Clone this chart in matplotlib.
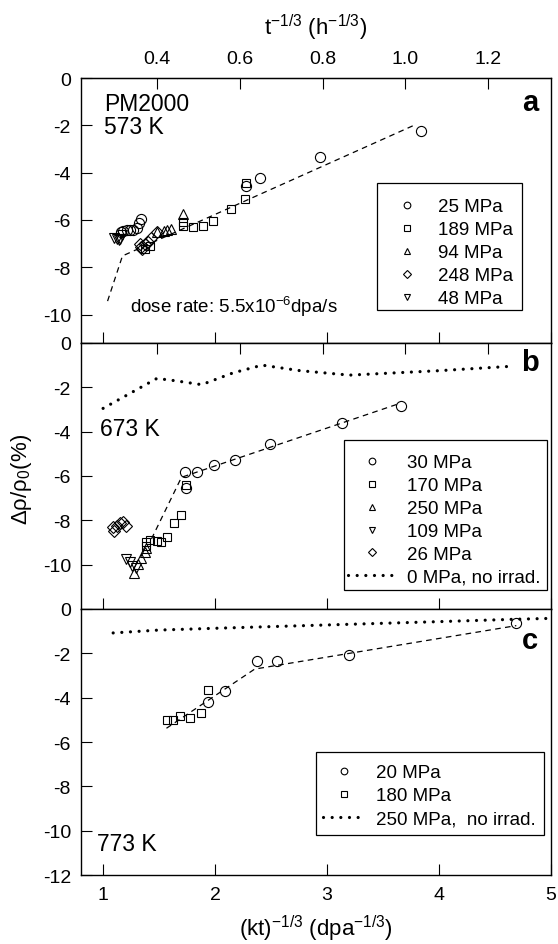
import matplotlib
matplotlib.use("Agg")
import matplotlib.pyplot as plt
from matplotlib.lines import Line2D
from matplotlib.patches import Rectangle
from matplotlib.ticker import FormatStrFormatter

plt.rcParams["font.family"] = ["Liberation Sans", "DejaVu Sans"]
plt.rcParams["mathtext.fontset"] = "custom"
plt.rcParams["mathtext.rm"] = "Liberation Sans"
plt.rcParams["mathtext.it"] = "Liberation Sans:italic"
plt.rcParams["mathtext.default"] = "regular"
plt.rcParams["axes.unicode_minus"] = False

# --------------------
# Data
# --------------------
# panel a, 573 K
a_25_x = [1.16, 1.18, 1.21, 1.24, 1.27, 1.30, 1.32, 1.34, 2.28, 2.40, 2.94, 3.84]
a_25_y = [-6.50, -6.46, -6.43, -6.43, -6.43, -6.36, -6.13, -5.95, -4.57, -4.22, -3.33, -2.25]
a_189_x = [1.37, 1.42, 1.71, 1.71, 1.80, 1.89, 1.98, 2.14, 2.27, 2.28]
a_189_y = [-7.22, -7.08, -6.08, -6.25, -6.29, -6.25, -6.05, -5.55, -5.12, -4.42]
a_94_x = [1.48, 1.54, 1.57, 1.61, 1.71]
a_94_y = [-6.53, -6.48, -6.43, -6.39, -5.75]
a_248_x = [1.33, 1.34, 1.35, 1.37, 1.40, 1.43, 1.48]
a_248_y = [-7.02, -7.14, -7.24, -7.02, -6.93, -6.76, -6.50]
a_48_x = [1.10, 1.125, 1.14, 1.155, 1.17]
a_48_y = [-6.76, -6.81, -6.86, -6.79, -6.65]
a_fit_x = [1.04, 1.173, 3.79]
a_fit_y = [-9.43, -7.52, -1.97]

# panel b, 673 K
b_30_x = [1.73, 1.738, 1.843, 1.988, 2.18, 2.49, 3.137, 3.658]
b_30_y = [-5.80, -6.54, -5.80, -5.50, -5.28, -4.56, -3.61, -2.83]
b_170_x = [1.38, 1.38, 1.423, 1.477, 1.52, 1.571, 1.634, 1.70, 1.738]
b_170_y = [-9.17, -8.99, -8.89, -8.95, -8.99, -8.74, -8.12, -7.74, -6.39]
b_250_x = [1.274, 1.31, 1.343, 1.37, 1.38]
b_250_y = [-10.39, -9.97, -9.71, -9.45, -9.26]
b_109_x = [1.203, 1.238, 1.262, 1.29]
b_109_y = [-9.74, -9.86, -10.04, -10.16]
b_26_x = [1.089, 1.096, 1.12, 1.155, 1.179, 1.203]
b_26_y = [-8.31, -8.46, -8.24, -8.13, -8.06, -8.24]
b_ref_x = [1.0, 1.48, 1.64, 1.88, 2.16, 2.42, 2.76, 3.2, 4.0, 4.65]
b_ref_y = [-2.95, -1.60, -1.70, -1.88, -1.35, -1.00, -1.25, -1.45, -1.25, -1.05]
b_fit_x = [1.432, 1.70, 3.635]
b_fit_y = [-8.84, -6.06, -2.75]

# panel c, 773 K
c_20_x = [1.938, 2.093, 2.37, 2.557, 3.2, 4.69]
c_20_y = [-4.19, -3.71, -2.33, -2.33, -2.07, -0.63]
c_180_x = [1.575, 1.625, 1.69, 1.774, 1.87, 1.938]
c_180_y = [-5.01, -4.99, -4.84, -4.93, -4.69, -3.64]
c_ref_x = [1.09, 1.5, 2.0, 3.0, 4.0, 4.7, 5.02]
c_ref_y = [-1.08, -0.95, -0.87, -0.72, -0.57, -0.46, -0.42]
c_fit_x = [1.566, 2.354, 4.69]
c_fit_y = [-5.38, -2.71, -0.75]

top_ticks = [0.4, 0.6, 0.8, 1.0, 1.2]
k_factor = 3.7  # (kt)^-1/3 = k_factor * t^-1/3

# --------------------
# Styles
# --------------------
MS = 7.3
MEW = 0.8
DOT = dict(color="black", lw=2.3, linestyle=(0, (0.01, 2.7)), dash_capstyle="round")
DASH = dict(color="black", lw=0.9, linestyle=(0, (4.5, 3.5)))
TICK_FS = 14
LEG_FS = 13.5


def pts(ax, x, y, marker, ms=MS, **kw):
    ax.plot(x, y, linestyle="none", marker=marker, ms=ms, mfc="none",
            mec="black", mew=MEW, zorder=4, **kw)


def style_axes(ax, show_xlabels):
    ax.set_xlim(0.8, 5.0)
    ax.set_xticks([1, 2, 3, 4, 5])
    ax.tick_params(axis="both", direction="in", length=8, width=0.8,
                   labelsize=TICK_FS, top=False, right=False)
    ax.tick_params(axis="y", pad=7)
    ax.tick_params(axis="x", pad=8, labelbottom=show_xlabels)
    for sp in ax.spines.values():
        sp.set_linewidth(1.0)


def box_legend(ax, handles, labels, anchor, rect, handlelength, textpad):
    ax.add_patch(Rectangle((rect[0], rect[1]), rect[2], rect[3], transform=ax.transAxes,
                           facecolor="white", edgecolor="black", lw=0.9, zorder=6))
    leg = ax.legend(handles, labels, loc="upper left", bbox_to_anchor=anchor,
                    frameon=False, borderpad=0, borderaxespad=0, fontsize=LEG_FS,
                    handlelength=handlelength, handletextpad=textpad, labelspacing=0.31)
    leg.set_zorder(7)
    return leg


def mk(marker, ms=4.8):
    return Line2D([], [], linestyle="none", marker=marker, ms=ms, mfc="none",
                  mec="black", mew=0.8)


def main():
    fig = plt.figure(figsize=(5.58, 9.45), dpi=100)
    left, width = 0.1446, 0.8429
    ax_a = fig.add_axes([left, 0.6360, width, 0.2804])
    ax_b = fig.add_axes([left, 0.3545, width, 0.2815])
    ax_c = fig.add_axes([left, 0.0730, width, 0.2815])

    # ---- panel a
    ax_a.plot(a_fit_x, a_fit_y, **DASH, zorder=3)
    pts(ax_a, a_25_x, a_25_y, "o")
    pts(ax_a, a_189_x, a_189_y, "s", ms=6.4)
    pts(ax_a, a_94_x, a_94_y, "^")
    pts(ax_a, a_248_x, a_248_y, "D", ms=6.2)
    pts(ax_a, a_48_x, a_48_y, "v")
    ax_a.set_ylim(-11.2, 0)
    ax_a.set_yticks([0, -2, -4, -6, -8, -10])
    style_axes(ax_a, False)
    ax_a.text(0.05, 0.86, "PM2000\n573 K", transform=ax_a.transAxes, fontsize=16.5,
              va="center", ha="left", linespacing=1.0)
    ax_a.text(0.105, 0.14, "dose rate: 5.5x10$^{-6}$dpa/s", transform=ax_a.transAxes,
              fontsize=13.5, va="center", ha="left")
    ax_a.text(0.955, 0.91, "a", transform=ax_a.transAxes, fontsize=21,
              fontweight="bold", ha="center", va="center")
    box_legend(ax_a, [mk("o"), mk("s", 4.3), mk("^"), mk("D", 4.2), mk("v")],
               ["25 MPa", "189 MPa", "94 MPa", "248 MPa", "48 MPa"],
               (0.646, 0.546), (0.630, 0.125, 0.308, 0.479), 2.37, 0.49)

    sec_a = ax_a.secondary_xaxis("top", functions=(lambda x: x / k_factor,
                                                   lambda t: t * k_factor))
    sec_a.set_xticks(top_ticks)
    sec_a.xaxis.set_major_formatter(FormatStrFormatter("%.1f"))
    sec_a.tick_params(direction="in", length=8, width=0.8, labelsize=TICK_FS, pad=8)

    # ---- panel b
    ax_b.plot(b_ref_x, b_ref_y, **DOT, zorder=3)
    ax_b.plot(b_fit_x, b_fit_y, **DASH, zorder=3)
    pts(ax_b, b_30_x, b_30_y, "o")
    pts(ax_b, b_170_x, b_170_y, "s", ms=6.4)
    pts(ax_b, b_250_x, b_250_y, "^")
    pts(ax_b, b_109_x, b_109_y, "v")
    pts(ax_b, b_26_x, b_26_y, "D", ms=6.2)
    ax_b.set_ylim(-12, 0)
    ax_b.set_yticks([0, -2, -4, -6, -8, -10])
    style_axes(ax_b, False)
    ax_b.text(0.04, 0.68, "673 K", transform=ax_b.transAxes, fontsize=16.5,
              va="center", ha="left")
    ax_b.text(0.955, 0.93, "b", transform=ax_b.transAxes, fontsize=21,
              fontweight="bold", ha="center", va="center")
    dot_handle = Line2D([], [], **DOT)
    box_legend(ax_b, [mk("o"), mk("s", 4.3), mk("^"), mk("v"), mk("D", 4.2), dot_handle],
               ["30 MPa", "170 MPa", "250 MPa", "109 MPa", "26 MPa", "0 MPa, no irrad."],
               (0.568, 0.582), (0.560, 0.0726, 0.431, 0.563), 2.56, 0.57)

    sec_b = ax_b.secondary_xaxis("top", functions=(lambda x: x / k_factor,
                                                   lambda t: t * k_factor))
    sec_b.set_xticks(top_ticks)
    sec_b.tick_params(direction="in", length=8, width=0.8, labeltop=False)

    # ---- panel c
    ax_c.plot(c_ref_x, c_ref_y, **DOT, zorder=3, clip_on=False)
    ax_c.plot(c_fit_x, c_fit_y, **DASH, zorder=3)
    pts(ax_c, c_20_x, c_20_y, "o")
    pts(ax_c, c_180_x, c_180_y, "s", ms=6.4)
    ax_c.set_ylim(-12, 0)
    ax_c.set_yticks([0, -2, -4, -6, -8, -10, -12])
    style_axes(ax_c, True)
    ax_c.text(0.035, 0.12, "773 K", transform=ax_c.transAxes, fontsize=16.5,
              va="center", ha="left")
    ax_c.text(0.955, 0.885, "c", transform=ax_c.transAxes, fontsize=21,
              fontweight="bold", ha="center", va="center")
    box_legend(ax_c, [mk("o"), mk("s", 4.3), Line2D([], [], **DOT)],
               ["20 MPa", "180 MPa", "250 MPa,  no irrad."],
               (0.515, 0.416), (0.4997, 0.150, 0.485, 0.311), 2.24, 0.59)

    # axis labels
    fig.text(0.566, 0.017, "(kt)$^{-1/3}$ (dpa$^{-1/3}$)", fontsize=16,
             ha="center", va="center")
    fig.text(0.566, 1 - 28 / 945, "t$^{-1/3}$ (h$^{-1/3}$)", fontsize=16,
             ha="center", va="center")
    fig.text(22 / 558, 1 - 479 / 945, "Δρ/ρ$_0$(%)", fontsize=16, rotation=90,
             ha="center", va="center")

    fig.savefig("out.png", dpi=100)
    plt.close(fig)


if __name__ == "__main__":
    main()
